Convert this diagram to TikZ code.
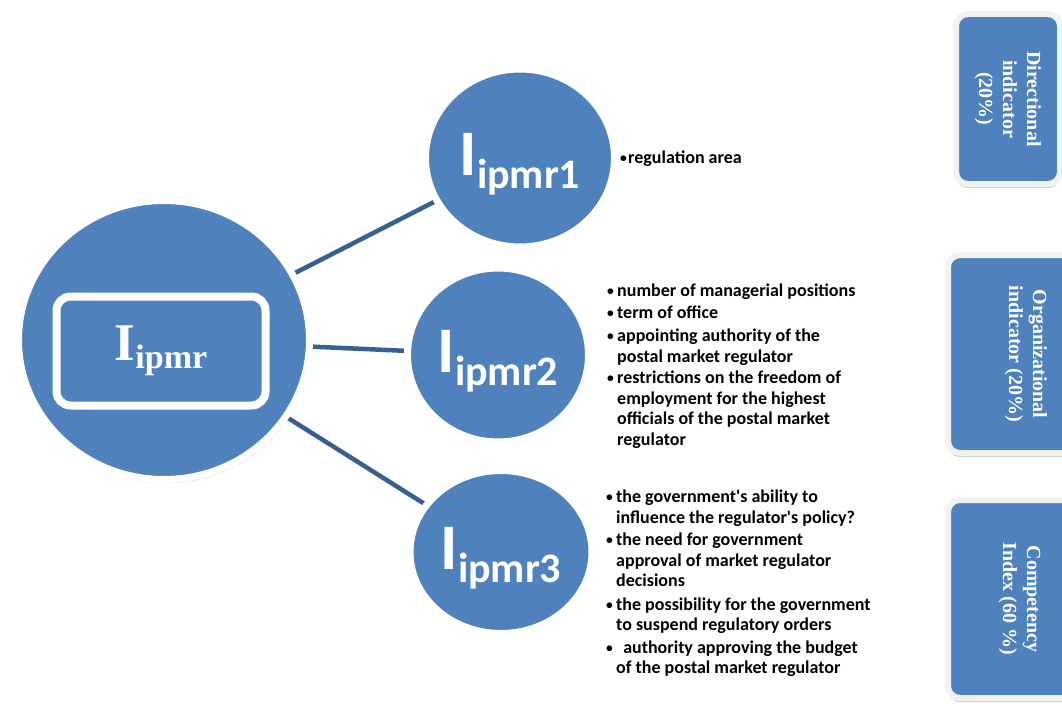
\documentclass[tikz,border=0pt]{standalone}
\usepackage{fontspec}
\usepackage{graphicx}
\newfontfamily\calfont{Carlito}
\newfontfamily\tmsfont{Liberation Serif}
\usetikzlibrary{shapes.geometric,shadows,backgrounds}
\definecolor{oblue}{HTML}{4F81BD}
\definecolor{lineblue}{HTML}{35608F}
\definecolor{rimgray}{HTML}{F2F2F2}
\newcommand{\bul}{\makebox[10pt][l]{\raisebox{1pt}{\scalebox{0.75}{\textbullet}}}}
\newcommand{\ind}{\hspace*{10pt}}
\begin{document}
\begin{tikzpicture}[x=1pt,y=-1pt,
  bubble/.style={ellipse, fill=oblue, draw=white, line width=7pt, inner sep=0pt,
    text=white, font=\calfont\bfseries,
    drop shadow={opacity=0.3, shadow scale=1.012, shadow xshift=1pt, shadow yshift=-2pt}},
  sidebox/.style={rectangle, rounded corners=12pt, fill=oblue, draw=rimgray, line width=6pt,
    inner sep=0pt, text=white, font=\tmsfont\bfseries\fontsize{20}{24}\selectfont,
    drop shadow={opacity=0.4, shadow xshift=0pt, shadow yshift=-4pt}},
  lblbox/.style={rectangle, rounded corners=14pt, fill=oblue, draw=white, line width=8pt,
    inner sep=0pt, text=white, font=\tmsfont\bfseries,
    drop shadow={color=lineblue, opacity=0.6, shadow xshift=2pt, shadow yshift=-3pt}},
  items/.style={align=left, inner sep=0pt, text=black, font=\calfont\bfseries\fontsize{18}{20.5}\selectfont},
  link/.style={draw=lineblue, line width=4.5pt}]
\useasboundingbox (0,0) rectangle (1062,706);
\clip (0,0) rectangle (1062,706);

% main circle
\node[bubble, minimum width=291pt, minimum height=279pt] (main) at (164,340) {};
\node[lblbox, minimum width=209pt, minimum height=109pt] (mainlbl) at (161,351)
  {\fontsize{53}{53}\selectfont I\raisebox{-8pt}{\fontsize{34}{34}\selectfont ipmr}};

% sub circles
\node[bubble, minimum width=189pt, minimum height=178pt] (c1) at (520,158)
  {\rule{0pt}{54pt}\fontsize{65}{65}\selectfont I\raisebox{-13pt}{\fontsize{42}{42}\selectfont ipmr1}};
\node[bubble, minimum width=181pt, minimum height=174pt] (c2) at (498,355)
  {\rule{0pt}{54pt}\fontsize{65}{65}\selectfont I\raisebox{-13pt}{\fontsize{42}{42}\selectfont ipmr2}};
\node[bubble, minimum width=182pt, minimum height=163pt] (c3) at (501,552)
  {\rule{0pt}{54pt}\fontsize{65}{65}\selectfont I\raisebox{-13pt}{\fontsize{42}{42}\selectfont ipmr3}};

\begin{pgfonlayer}{background}
  \draw[link] (main.center) -- (c1.center);
  \draw[link] (main.center) -- (c2.center);
  \draw[link] (main.center) -- (c3.center);
\end{pgfonlayer}

% lists
\node[items, anchor=base west] (l1) at (620,163) {\makebox[8pt][l]{\raisebox{1pt}{\scalebox{0.75}{\textbullet}}}regulation area};
\node[items, anchor=north west] (l2) at (607,284) {%
\bul number of managerial positions\\[1pt]
\bul term of office\\[3pt]
\bul appointing authority of the\\
\ind postal market regulator\\[1pt]
\bul restrictions on the freedom of\\
\ind employment for the highest\\
\ind officials of the postal market\\
\ind regulator};
\node[items, anchor=north west] (l3) at (606,490) {%
\bul the government's ability to\\
\ind influence the regulator's policy?\\[2pt]
\bul the need for government\\
\ind approval of market regulator\\
\ind decisions\\[3pt]
\bul the possibility for the government\\
\ind to suspend regulatory orders\\[2pt]
\bul\ \,authority approving the budget\\
\ind of the postal market regulator};

% side boxes
\node[sidebox, minimum width=104pt, minimum height=170pt] (b1) at (1008,99)
  {\rotatebox[origin=c]{-90}{\begin{tabular}{@{}c@{}}Directional\\indicator\\(20\%)\end{tabular}}};
\node[sidebox, minimum width=156pt, minimum height=198pt] (b2) at (1026,354)
  {\rotatebox[origin=c]{-90}{\begin{tabular}{@{}c@{}}Organizational\\indicator (20\%)\end{tabular}}};
\node[sidebox, minimum width=144pt, minimum height=198pt] (b3) at (1020,599)
  {\rotatebox[origin=c]{-90}{\begin{tabular}{@{}c@{}}Competency\\Index (60 \%)\end{tabular}}};
\end{tikzpicture}
\end{document}
